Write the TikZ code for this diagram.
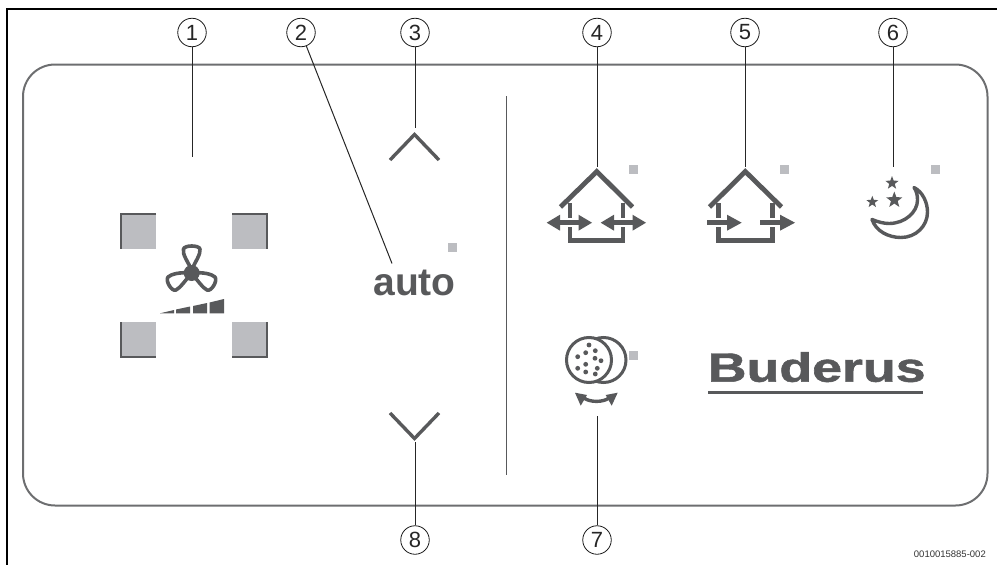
\documentclass[tikz,border=0pt]{standalone}
\usepackage{fontspec}
\setmainfont{Liberation Sans}
\newfontfamily\brandfont[FakeBold=1.2]{Liberation Sans Bold}
\usetikzlibrary{shapes.geometric}
\definecolor{ink}{HTML}{58595B}
\definecolor{led}{HTML}{BCBDC1}
\definecolor{rim}{HTML}{6D6E70}
\tikzset{
  x=1pt,y=-1pt,
  numcirc/.style={circle,draw=black!90,line width=.8pt,minimum size=28.5pt,inner sep=0pt,font=\fontsize{22}{22}\selectfont,text=black!85},
  leader/.style={draw=black!85,line width=1pt},
  heavy/.style={draw=ink,line width=4.8pt},
  fanblade/.style={draw=ink,line width=3.6pt,line join=round},
  shaft/.style={draw=ink,line width=4.6pt},
  starshape/.style={star,star points=5,star point ratio=2.4,fill=ink,draw=none,inner sep=0pt},
}
\begin{document}
\begin{tikzpicture}
\useasboundingbox (0,0) rectangle (997,565);
% frame
\draw[black,line width=2pt] (7,565) -- (7,9) -- (997,9);
% panel
\draw[draw=rim,line width=2pt,rounded corners=32pt] (23,64.5) rectangle (987.5,505.5);
% numbers
\node[numcirc] (n1) at (192,32.5) {1};
\node[numcirc] (n2) at (301,32.5) {2};
\node[numcirc] (n3) at (415,32.5) {3};
\node[numcirc] (n4) at (597,32.5) {4};
\node[numcirc] (n5) at (745,32.5) {5};
\node[numcirc] (n6) at (893,32.5) {6};
\node[numcirc] (n7) at (597,540) {7};
\node[numcirc] (n8) at (415,540) {8};
% leader ends
\coordinate (e1) at (192,157);
\coordinate (e2) at (392,263.5);
\coordinate (e3) at (415,128);
\coordinate (e4) at (597,167);
\coordinate (e5) at (745,167);
\coordinate (e6) at (893,167);
\coordinate (e7) at (597,416);
\coordinate (e8) at (415,442);
\foreach \i in {1,...,8} \draw[leader] (n\i) -- (e\i);
% divider
\draw[draw=ink,line width=1.6pt] (506.5,96) -- (506.5,475);
% fan corner squares
\fill[led] (120,213) rectangle (156,249);
\fill[led] (232,213) rectangle (268,249);
\fill[led] (120,322) rectangle (156,358);
\fill[led] (232,322) rectangle (268,358);
\draw[ink,line width=2pt] (156,214) -- (121,214) -- (121,249);
\draw[ink,line width=2pt] (232,214) -- (267,214) -- (267,249);
\draw[ink,line width=2pt] (121,322) -- (121,357) -- (156,357);
\draw[ink,line width=2pt] (267,322) -- (267,357) -- (232,357);
% fan
\fill[ink] (191.7,273) circle (8);
\draw[fanblade] (191.7,270) .. controls (188,262) and (182,254) .. (183.5,249) .. controls (184.5,245) and (199,245) .. (200,249) .. controls (201,254) and (195,262) .. (191.7,270);
\draw[fanblade] (189,273) .. controls (181,272) and (171,274) .. (168,277) .. controls (165,281) and (172,292) .. (176,290) .. controls (180,288) and (185,281) .. (190,275);
\draw[fanblade] (194,273) .. controls (202,272) and (212,274) .. (215,277) .. controls (218,281) and (211,292) .. (207,290) .. controls (203,288) and (198,281) .. (193,275);
% fan bars
\fill[ink] (160,313.3) -- (174,310) -- (174,313.3) -- cycle;
\fill[ink] (176,313.3) -- (176,309.5) -- (190,306.5) -- (190,313.3) -- cycle;
\fill[ink] (193,313.3) -- (193,306) -- (207,303) -- (207,313.3) -- cycle;
\fill[ink] (209.5,313.3) -- (209.5,302.5) -- (224,299) -- (224,313.3) -- cycle;
% chevrons
\draw[ink,line width=3.4pt] (390,160) -- (414.5,134.5) -- (439,160);
\draw[ink,line width=3.4pt] (390,413) -- (414.5,438.5) -- (439,413);
% auto
\node[font=\bfseries\fontsize{39}{39}\selectfont,text=ink,inner sep=0pt,anchor=base] (auto) at (414.5,295.5) {auto};
% led dots
\foreach \x/\y in {448/243,629/165,780/165,931/165,629/351} \fill[led] (\x,\y) rectangle +(9,9);
% house 4
\draw[heavy,line join=miter] (560.5,207) -- (596.8,171.5) -- (632.5,207);
\draw[heavy] (570,203) -- (570,218);
\draw[heavy] (623,203) -- (623,218);
\draw[heavy,line join=miter] (570,227) -- (570,240.5) -- (623,240.5) -- (623,227);
\draw[shaft] (558,222.7) -- (582,222.7);
\fill[ink] (546.7,222.7) -- (560,214.7) -- (560,230.7) -- cycle;
\fill[ink] (592,222.7) -- (578.5,214.7) -- (578.5,230.7) -- cycle;
\draw[shaft] (612,222.7) -- (636,222.7);
\fill[ink] (600.7,222.7) -- (614,214.7) -- (614,230.7) -- cycle;
\fill[ink] (646,222.7) -- (632.5,214.7) -- (632.5,230.7) -- cycle;
% house 5
\draw[heavy,line join=miter] (709.5,207) -- (745.3,171.5) -- (781.5,207);
\draw[heavy] (718.5,203) -- (718.5,218);
\draw[heavy] (772.5,203) -- (772.5,218);
\draw[heavy,line join=miter] (718.5,227) -- (718.5,240.5) -- (772.5,240.5) -- (772.5,227);
\draw[shaft] (707,222.7) -- (730,222.7);
\fill[ink] (741.7,222.7) -- (727,214.7) -- (727,230.7) -- cycle;
\draw[shaft] (760,222.7) -- (783,222.7);
\fill[ink] (795,222.7) -- (780,214.7) -- (780,230.7) -- cycle;
% moon
\draw[ink,line width=3.4pt,line join=round] (914,187.5) .. controls (923,192) and (927.5,203) .. (927.5,212) .. controls (927.5,226) and (916,237.5) .. (901,237.5) .. controls (888,237.5) and (876,231) .. (872,219.5) .. controls (878,222) and (884,223.5) .. (889,223.5) .. controls (905,223.5) and (917.5,212) .. (917.5,200) .. controls (917.5,195) and (916.5,191) .. (914,187.5) -- cycle;
\node[starshape,minimum size=14pt] (s1) at (892,183) {};
\node[starshape,minimum size=17pt] (s2) at (894.3,200) {};
\node[starshape,minimum size=12.5pt] (s3) at (872.3,202) {};
% filter
\draw[ink,line width=3pt] (603.5,360) circle (22.5);
\draw[ink,line width=3pt,fill=white] (589,360) circle (22.5);
\foreach \x/\y in {589/345,585.7/352.7,595.3/350.7,577.7/356.7,595/358.3,601/360.7,585.7/364.3,577.7/368.3,597.3/368.3,585.7/372,595.3/374} \fill[ink] (\x,\y) circle (2.4);
% filter arrow
\draw[ink,line width=3.4pt] (584,398) .. controls (590,402.5) and (603,402.5) .. (609,398);
\fill[ink] (575,392.7) -- (587,395) -- (580.7,405.7) -- cycle;
\fill[ink] (617.7,392.7) -- (605.7,395) -- (611.7,405.7) -- cycle;
% Buderus
\node[font=\brandfont\fontsize{41}{41}\selectfont,text=ink,inner sep=0pt,anchor=base west,xscale=1.31] (brand) at (707.5,381.7) {Buderus};
\fill[ink] (708,391) rectangle (923,394);
% code
\node[font=\fontsize{9.5}{10}\selectfont,text=black!80,inner sep=0pt,anchor=base east] (code) at (986,557.5) {0010015885-002};
\end{tikzpicture}
\end{document}
